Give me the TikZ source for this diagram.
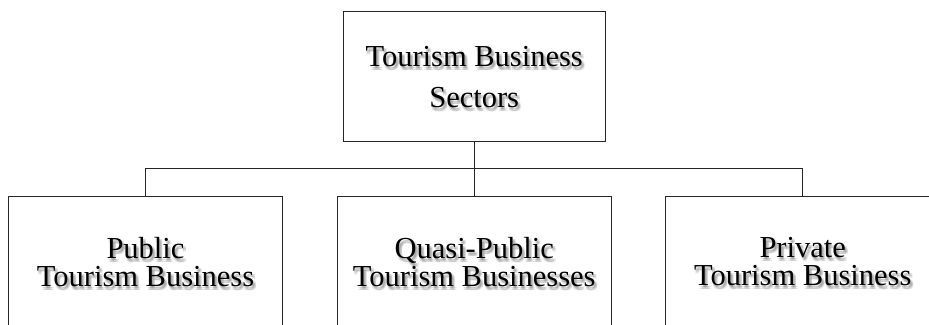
\documentclass[tikz,border=0pt]{standalone}
\usepackage{fontspec}
\setmainfont{Liberation Serif}
\usetikzlibrary{backgrounds}
\newcommand\fonttop{\fontsize{30.5}{41}\selectfont}
\newcommand\fontbot{\fontsize{30.5}{28}\selectfont}
\newcommand\shtext[3]{%
  \foreach \dx/\dy [count=\k] in {1/-2,3/-2,1/-4,3/-4,2/-3}
    \node[shd,font=#2,xshift=\dx pt,yshift=\dy pt] (#1s\k) at (#1) {#3};}
\begin{document}
\begin{tikzpicture}[x=1pt,y=1pt,
  box/.style={draw=black!85,line width=1.1pt,minimum width=274pt,minimum height=130pt,
              inner sep=0pt,align=center,text=black},
  shd/.style={align=center,inner sep=0pt,text=black!55,text opacity=0.2},
  conn/.style={draw=black!85,line width=1pt}]
\useasboundingbox (0,0) rectangle (929,324);
\node[box,minimum width=262pt,font=\fonttop] (top) at (474.2,247.4) {Tourism Business\\Sectors};
\node[box,font=\fontbot] (pub) at (145.5,62.4) {Public\\Tourism Business};
\node[box,font=\fontbot] (qua) at (474.2,62.4) {Quasi-Public\\Tourism Businesses};
\node[box,font=\fontbot] (pri) at (802.7,62.4) {Private\\Tourism Business};
\begin{scope}[on background layer]
  \shtext{top}{\fonttop}{Tourism Business\\Sectors}
  \shtext{pub}{\fontbot}{Public\\Tourism Business}
  \shtext{qua}{\fontbot}{Quasi-Public\\Tourism Businesses}
  \shtext{pri}{\fontbot}{Private\\Tourism Business}
\end{scope}
\coordinate (bus) at (474.2,155);
\draw[conn] (top.south) -- (bus);
\draw[conn] (bus) -| (pub.north);
\draw[conn] (bus) -| (pri.north);
\draw[conn] (bus) -- (qua.north);
\end{tikzpicture}
\end{document}
